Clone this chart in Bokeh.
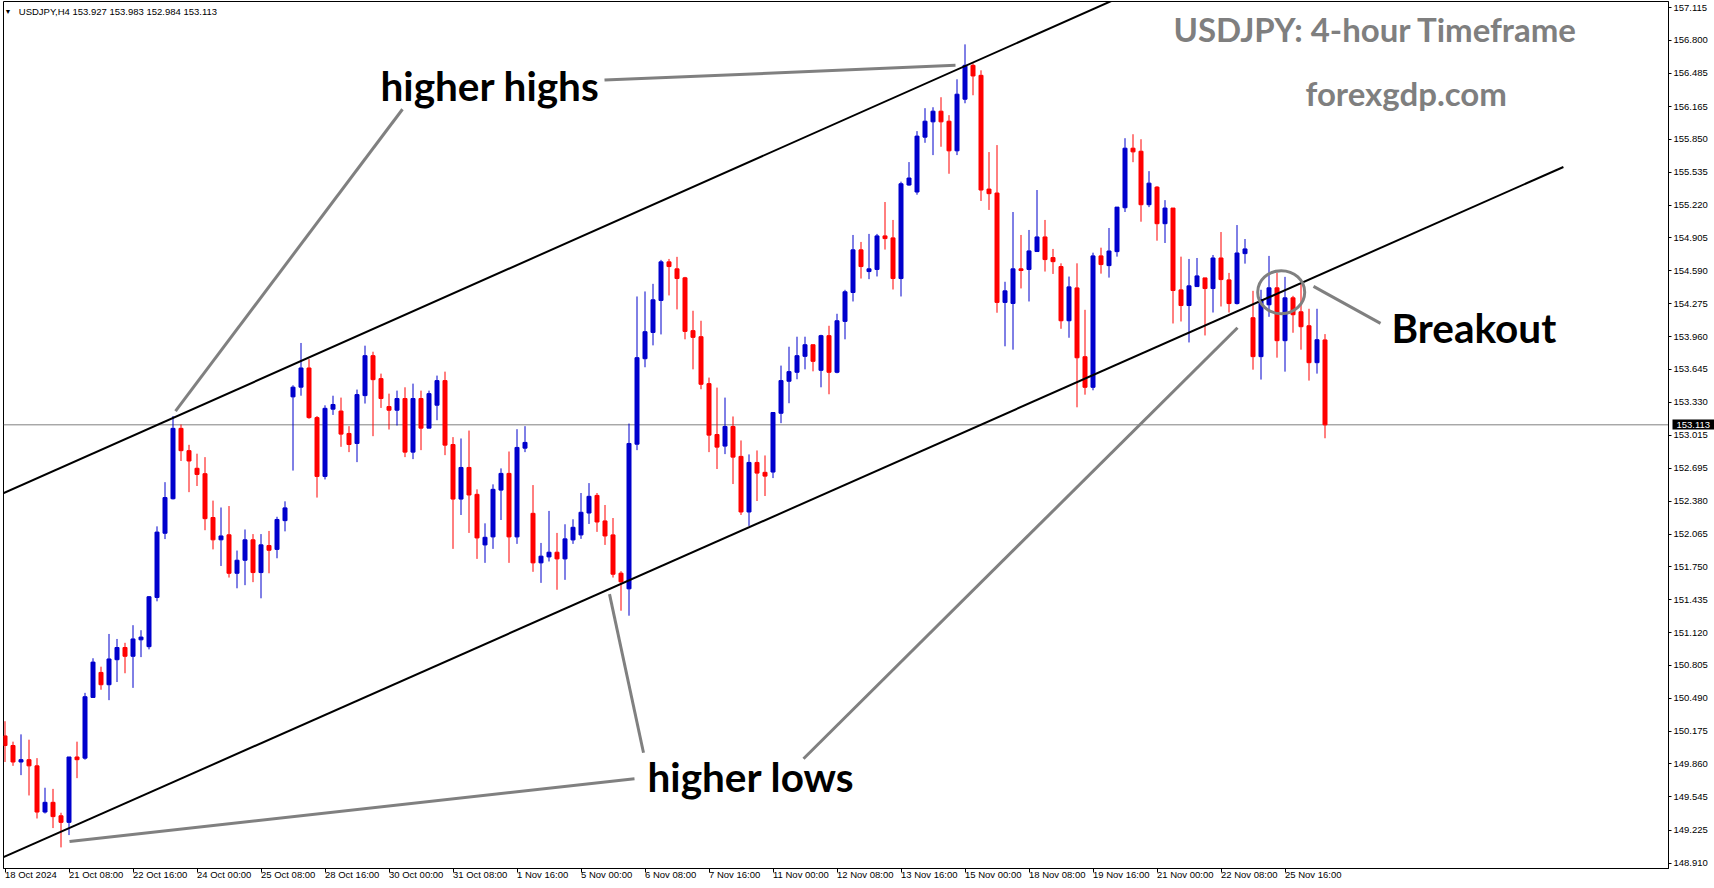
from bokeh.plotting import figure
from bokeh.models import (Range1d, LinearAxis, FixedTicker, Label, ColumnDataSource,
                          Span, NumeralTickFormatter, CustomJSTickFormatter)
from bokeh.embed import file_html
from bokeh.resources import INLINE

# ---------------- data (USDJPY H4 candles, index 0 = 18 Oct 2024 00:00) ----------------
opens = [150.129, 150.037, 149.879, 149.901, 149.842, 149.399, 149.492, 149.363, 149.300, 149.927,
         149.916, 150.498, 150.738, 150.620, 150.860, 150.977, 150.893, 151.051, 150.985, 151.457,
         152.073, 152.404, 153.079, 152.865, 152.696, 152.644, 152.224, 152.010, 152.058, 151.689,
         151.814, 152.010, 151.696, 151.955, 151.918, 152.194, 153.381, 153.474, 153.658, 153.182,
         152.618, 153.263, 153.245, 153.030, 152.934, 153.393, 153.776, 153.556, 153.288, 153.253,
         153.365, 152.851, 153.365, 153.081, 153.301, 153.537, 152.924, 152.401, 152.704, 152.446,
         151.961, 152.038, 152.487, 152.647, 152.038, 152.889, 152.264, 151.789, 151.846, 151.891,
         151.827, 152.009, 152.057, 152.267, 152.436, 152.191, 152.057, 151.690, 151.540, 152.927,
         153.747, 153.999, 154.306, 154.676, 154.609, 154.523, 154.016, 153.958, 153.508, 153.020,
         152.909, 153.097, 152.810, 152.277, 152.752, 152.657, 152.660, 153.224, 153.531, 153.617,
         153.770, 153.881, 153.636, 153.968, 153.617, 154.105, 154.382, 154.791, 154.583, 154.603,
         154.925, 154.906, 154.516, 155.413, 155.346, 155.872, 156.019, 156.121, 156.025, 155.741,
         156.236, 156.561, 156.465, 155.374, 155.336, 154.287, 154.277, 154.609, 154.603, 154.775,
         154.915, 154.717, 154.631, 154.111, 154.426, 153.766, 153.473, 154.733, 154.640, 154.774,
         155.195, 155.766, 155.737, 155.224, 155.393, 155.042, 155.192, 154.407, 154.257, 154.439,
         154.522, 154.420, 154.713, 154.503, 154.276, 154.755, 154.140, 153.767, 154.264, 154.427,
         153.920, 154.331, 154.197, 154.063, 153.709, 153.927]
highs = [150.270, 150.074, 150.144, 150.093, 149.916, 149.632, 149.621, 149.392, 149.927, 150.074,
         150.542, 150.874, 150.793, 151.107, 151.059, 151.022, 151.191, 151.143, 151.471, 152.139,
         152.563, 153.197, 153.116, 152.921, 152.836, 152.803, 152.386, 152.320, 152.334, 151.907,
         152.109, 152.065, 152.065, 152.095, 152.231, 152.379, 153.492, 153.898, 153.743, 153.197,
         153.300, 153.392, 153.374, 153.100, 153.451, 153.872, 153.814, 153.604, 153.412, 153.441,
         153.473, 153.508, 153.441, 153.441, 153.585, 153.623, 152.995, 152.982, 153.058, 152.494,
         152.168, 152.542, 152.695, 152.857, 153.071, 153.100, 152.535, 151.980, 152.287, 152.076,
         152.159, 152.207, 152.459, 152.554, 152.459, 152.344, 152.219, 151.709, 153.125, 154.344,
         154.392, 154.465, 154.695, 154.704, 154.724, 154.532, 154.207, 154.111, 153.566, 153.470,
         153.374, 153.193, 152.963, 152.829, 152.867, 152.819, 153.231, 153.681, 153.862, 153.958,
         153.958, 153.881, 153.977, 154.063, 154.178, 154.408, 154.934, 154.867, 154.944, 154.944,
         155.250, 155.078, 155.445, 155.633, 155.930, 156.150, 156.159, 156.255, 156.083, 156.427,
         156.762, 156.580, 156.513, 155.729, 155.796, 154.485, 155.154, 154.934, 154.982, 155.365,
         155.078, 154.800, 154.662, 154.535, 154.662, 154.216, 154.764, 154.812, 155.001, 155.201,
         155.862, 155.900, 155.852, 155.546, 155.402, 155.268, 155.192, 154.726, 154.704, 154.713,
         154.522, 154.742, 154.962, 154.570, 155.029, 154.895, 154.398, 154.408, 154.733, 154.571,
         154.532, 154.350, 154.475, 154.226, 154.226, 153.983]
lows = [149.879, 149.842, 149.753, 149.558, 149.337, 149.385, 149.245, 149.060, 149.178, 149.724,
        149.901, 150.498, 150.572, 150.472, 150.646, 150.730, 150.590, 150.885, 150.959, 151.420,
        152.017, 152.397, 152.766, 152.467, 152.526, 152.102, 151.918, 151.759, 151.648, 151.545,
        151.575, 151.604, 151.449, 151.689, 151.833, 152.091, 152.674, 153.392, 153.171, 152.415,
        152.589, 153.208, 152.902, 152.851, 152.755, 153.317, 153.004, 153.275, 153.068, 153.106,
        152.803, 152.784, 152.870, 153.081, 153.157, 152.822, 151.923, 152.248, 152.076, 151.827,
        151.789, 151.923, 152.200, 151.789, 151.971, 152.851, 151.703, 151.597, 151.802, 151.531,
        151.626, 151.971, 152.019, 152.162, 152.086, 151.961, 151.648, 151.330, 151.282, 152.870,
        153.665, 153.875, 153.980, 154.354, 154.220, 153.933, 153.645, 153.454, 152.851, 152.689,
        152.832, 152.545, 152.248, 152.143, 152.382, 152.430, 152.602, 153.129, 153.320, 153.550,
        153.645, 153.626, 153.473, 153.406, 153.607, 153.933, 154.296, 154.516, 154.510, 154.536,
        154.794, 154.411, 154.344, 155.406, 155.320, 155.818, 155.700, 155.780, 155.521, 155.700,
        156.197, 156.274, 155.260, 155.174, 154.188, 153.866, 153.834, 154.421, 154.296, 154.775,
        154.583, 154.560, 154.034, 153.948, 153.281, 153.402, 153.444, 154.563, 154.525, 154.726,
        155.154, 155.632, 155.061, 155.201, 154.879, 154.857, 154.085, 154.104, 153.903, 154.439,
        153.970, 154.190, 154.248, 154.190, 154.267, 154.659, 153.642, 153.547, 154.149, 153.757,
        153.623, 153.996, 153.834, 153.537, 153.604, 152.984]
closes = [150.037, 149.879, 149.901, 149.842, 149.399, 149.492, 149.355, 149.300, 149.927, 149.901,
          150.505, 150.837, 150.620, 150.867, 150.977, 150.893, 151.059, 151.077, 151.464, 152.084,
          152.415, 153.079, 152.865, 152.766, 152.637, 152.213, 152.010, 152.047, 151.689, 151.814,
          152.010, 151.696, 151.962, 151.910, 152.205, 152.316, 153.474, 153.658, 153.182, 152.618,
          153.271, 153.308, 153.024, 152.924, 153.403, 153.776, 153.546, 153.365, 153.253, 153.365,
          152.851, 153.365, 153.081, 153.412, 153.537, 152.918, 152.401, 152.704, 152.440, 152.028,
          152.034, 152.494, 152.647, 152.038, 152.896, 152.944, 151.789, 151.853, 151.891, 151.827,
          152.019, 152.130, 152.274, 152.427, 152.181, 152.047, 151.680, 151.607, 152.934, 153.757,
          154.006, 154.312, 154.676, 154.631, 154.516, 154.009, 153.952, 153.502, 153.014, 152.899,
          153.097, 152.803, 152.277, 152.752, 152.650, 152.621, 153.231, 153.537, 153.623, 153.776,
          153.881, 153.722, 153.968, 153.617, 154.111, 154.389, 154.791, 154.631, 154.609, 154.925,
          154.899, 154.516, 155.425, 155.480, 155.882, 156.025, 156.121, 156.019, 155.741, 156.284,
          156.561, 156.459, 155.365, 155.330, 154.287, 154.398, 154.609, 154.593, 154.781, 154.915,
          154.698, 154.678, 154.111, 154.436, 153.756, 153.473, 154.733, 154.650, 154.780, 155.201,
          155.766, 155.731, 155.224, 155.431, 155.042, 155.192, 154.401, 154.257, 154.446, 154.541,
          154.420, 154.713, 154.506, 154.276, 154.761, 154.800, 153.767, 154.312, 154.427, 153.920,
          154.331, 154.169, 154.054, 153.709, 153.929, 153.113]

date_ticks = [0, 8, 16, 24, 32, 40, 48, 56, 64, 72, 80, 88, 96, 104, 112, 120, 128, 136, 144, 152, 160]
date_labels = ["18 Oct 2024", "21 Oct 08:00", "22 Oct 16:00", "24 Oct 00:00", "25 Oct 08:00",
               "28 Oct 16:00", "30 Oct 00:00", "31 Oct 08:00", "1 Nov 16:00", "5 Nov 00:00",
               "6 Nov 08:00", "7 Nov 16:00", "11 Nov 00:00", "12 Nov 08:00", "13 Nov 16:00",
               "15 Nov 00:00", "18 Nov 08:00", "19 Nov 16:00", "21 Nov 00:00", "22 Nov 08:00",
               "25 Nov 16:00"]
price_ticks = [157.115, 156.800, 156.485, 156.165, 155.850, 155.535, 155.220, 154.905, 154.590,
               154.275, 153.960, 153.645, 153.330, 153.015, 152.695, 152.380, 152.065, 151.750,
               151.435, 151.120, 150.805, 150.490, 150.175, 149.860, 149.545, 149.225, 148.910]
last_price = 153.113
header_text = "USDJPY,H4  153.927 153.983 152.984 153.113"

# channel lines (candle index, price)
upper_x = [-1.0, 140.0]
upper_y = [152.429, 157.236]
lower_x = [-0.19, 194.8]
lower_y = [148.966, 155.586]

# ---------------- geometry helpers (pixel -> data) ----------------
def px_x(x):
    return (x - 4.5) / 8.0


def px_y(y):
    return 156.8 - (y - 40.0) / 104.5


W, H = 1714, 888
p = figure(width=W, height=H, output_backend="svg", toolbar_location=None,
           x_range=Range1d(px_x(3), px_x(1668)), y_range=Range1d(px_y(870), px_y(1)),
           x_axis_location=None, y_axis_location=None,
           min_border_left=3, min_border_right=46, min_border_top=1, min_border_bottom=18)
p.background_fill_color = "white"
p.border_fill_color = "white"
p.outline_line_color = "black"
p.outline_line_width = 1
p.xgrid.visible = False
p.ygrid.visible = False

SMALL = "Liberation Sans"
# price scale
yax = LinearAxis(ticker=FixedTicker(ticks=price_ticks), formatter=NumeralTickFormatter(format="0.000"),
                 axis_line_color="black", major_tick_line_color="black",
                 major_tick_out=3, major_tick_in=0, minor_tick_out=0, minor_tick_in=0,
                 major_label_standoff=2, major_label_text_font=SMALL,
                 major_label_text_font_size="9.5px", major_label_text_color="black")
p.add_layout(yax, "right")
# last-price marker on the price scale (black box drawn by a thick tick, white label on top)
ybox = LinearAxis(ticker=FixedTicker(ticks=[last_price]), formatter=NumeralTickFormatter(format="0.000"),
                  axis_line_color=None, major_tick_line_color="black", major_tick_line_width=10,
                  major_tick_in=38, major_tick_out=4, minor_tick_out=0, minor_tick_in=0,
                  major_label_standoff=-38, major_label_text_font=SMALL,
                  major_label_text_font_size="9.5px", major_label_text_color="white")
p.add_layout(ybox, "right")

# time scale: labels start at their tick (MT4 style) via a tiny negative label angle
xax = LinearAxis(ticker=FixedTicker(ticks=date_ticks),
                 major_label_overrides={t: lab for t, lab in zip(date_ticks, date_labels)},
                 major_label_orientation=-1e-6,
                 axis_line_color="black", major_tick_line_color="black",
                 major_tick_out=4, major_tick_in=0, minor_tick_out=0, minor_tick_in=0,
                 major_label_standoff=2, major_label_text_font=SMALL,
                 major_label_text_font_size="9.5px", major_label_text_color="black")
p.add_layout(xax, "below")

# price line
p.add_layout(Span(location=last_price, dimension="width", line_color="#808080", line_width=1,
                  level="underlay"))

# candles
idx = list(range(len(opens)))
colors = ["#0000CC" if c >= o else "#FF0000" for o, c in zip(opens, closes)]
src = ColumnDataSource(dict(x=idx, o=opens, h=highs, l=lows, c=closes,
                            top=[max(o, c) for o, c in zip(opens, closes)],
                            bot=[min(o, c) for o, c in zip(opens, closes)], col=colors))
p.segment(x0="x", y0="l", x1="x", y1="h", line_color="col", line_width=1, source=src)
p.vbar(x="x", width=0.5, top="top", bottom="bot", fill_color="col", line_color="col",
       line_width=1, source=src)

# channel lines
p.line(upper_x, upper_y, line_color="black", line_width=2)
p.line(lower_x, lower_y, line_color="black", line_width=2)

# pointer lines (drawn annotation objects, defined in pixel space of the chart)
pointers_px = [
    ((604, 79.8), (955, 65)),
    ((402, 109), (175, 411.5)),
    ((634, 780), (69, 843)),
    ((643, 754), (609, 595)),
    ((803, 760), (1237, 328)),
    ((1380, 323.6), (1313, 286.5)),
]
for (a, b) in pointers_px:
    p.line([px_x(a[0]), px_x(b[0])], [px_y(a[1]), px_y(b[1])], line_color="#808080", line_width=3)

p.ellipse(x=[px_x(1280.7)], y=[px_y(292.3)], width=47, height=43,
          width_units="screen", height_units="screen",
          fill_color=None, line_color="#808080", line_width=3)

# big annotation texts
BIG = "Lato"
def add_text(txt, x, y, size, color="black"):
    p.add_layout(Label(x=px_x(x), y=px_y(y), text=txt, text_font=BIG, text_font_style="bold",
                       text_font_size=size, text_color=color, text_align="left",
                       text_baseline="alphabetic"))

add_text("higher highs", 380, 85.4, "40.5px")
add_text("higher lows", 647, 778, "40.5px")
add_text("Breakout", 1391, 328, "40.5px")
add_text("USDJPY: 4-hour Timeframe", 1173, 28.6, "33px", "#7f7f7f")
add_text("forexgdp.com", 1305, 93, "33px", "#7f7f7f")

# header
p.add_layout(Label(x=px_x(4), y=px_y(11), text="\u25BC", text_font=SMALL, text_font_size="7px",
                   text_color="black", text_align="left", text_baseline="middle"))
p.add_layout(Label(x=px_x(18.3), y=px_y(11), text=header_text, text_font=SMALL,
                   text_font_size="9.5px", text_color="black", text_align="left", text_baseline="middle"))

open("out.html", "w").write(file_html(p, INLINE))
